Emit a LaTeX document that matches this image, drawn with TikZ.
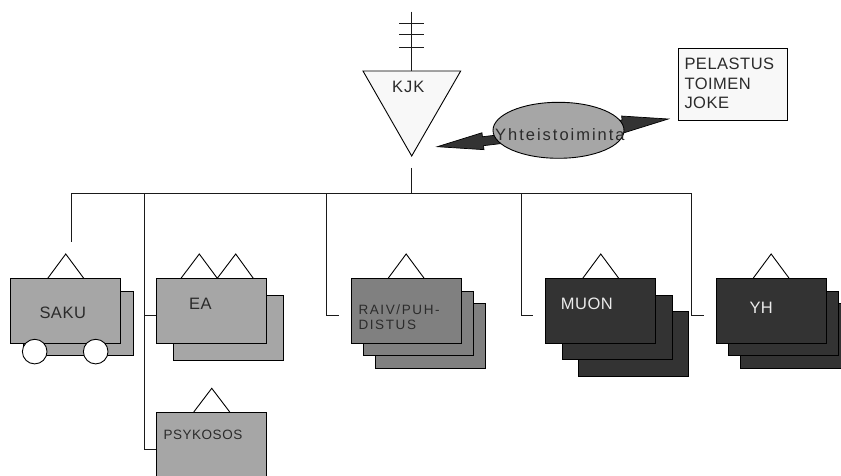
\documentclass[tikz,border=0pt]{standalone}
\usepackage{fontspec}
\setmainfont{Liberation Sans}
\usetikzlibrary{calc,shapes.geometric}

\definecolor{paper}{HTML}{F8F8F8}
\definecolor{midgray}{HTML}{A6A6A6}
\definecolor{slategray}{HTML}{808080}
\definecolor{charcoal}{HTML}{333333}
\definecolor{ink}{HTML}{2B2B2B}
\definecolor{linegray}{HTML}{1A1A1A}

\begin{document}
\begin{tikzpicture}[x=1pt,y=-1pt,
  wire/.style={draw=linegray, line width=1pt},
  unitbox/.style={draw=black, line width=0.9pt, rectangle, inner sep=0pt,
    minimum width=110pt, minimum height=64.7pt, anchor=north west},
  hanger/.style={draw=black, line width=0.9pt},
  lbl/.style={inner sep=0pt, anchor=base west, text=ink,
    font=\fontsize{16.5}{19.5}\selectfont\addfontfeature{LetterSpace=3}},
  smalllbl/.style={lbl, font=\fontsize{13.5}{15}\selectfont\addfontfeature{LetterSpace=12}},
  whitelbl/.style={lbl, text=white!92!black},
  wheel/.style={draw=black, line width=0.9pt, fill=white, circle, minimum size=24.6pt, inner sep=0pt}
]
\useasboundingbox (0,0) rectangle (841,476);

% ---------- command post: antenna and triangle ----------
\coordinate (anttop) at (411.7,11.7);
\coordinate (kjktop) at (411.7,71);
\coordinate (kjkl) at (363,71);
\coordinate (kjkr) at (460.7,71);
\coordinate (kjkb) at (411.7,156);
\draw[wire] (anttop) -- (kjktop);
\foreach \yy in {23.3,35,47.3}
  \draw[wire] (399.3,\yy) -- (424,\yy);
\filldraw[fill=paper, draw=black, line width=0.9pt] (kjkl) -- (kjkr) -- (kjkb) -- cycle;
\node[lbl, font=\fontsize{16.5}{19.5}\selectfont\addfontfeature{LetterSpace=6}] (kjk) at (392,92.7) {KJK};

% ---------- cooperation: double arrow under the ellipse ----------
\coordinate (ltip) at (437.3,146.7);
\coordinate (rtip) at (668.3,119);
\coordinate (lneck) at ($(ltip)!46pt!(rtip)$);
\coordinate (rneck) at ($(rtip)!46pt!(ltip)$);
\filldraw[fill=charcoal, draw=black, line width=0.7pt] (ltip)
  -- ($(lneck)!8.5pt!90:(rtip)$) -- ($(lneck)!4.5pt!90:(rtip)$)
  -- ($(rneck)!4.5pt!-90:(ltip)$) -- ($(rneck)!8.5pt!-90:(ltip)$)
  -- (rtip)
  -- ($(rneck)!8.5pt!90:(ltip)$) -- ($(rneck)!4.5pt!90:(ltip)$)
  -- ($(lneck)!4.5pt!-90:(rtip)$) -- ($(lneck)!8.5pt!-90:(rtip)$) -- cycle;
\node[ellipse, draw=black, line width=0.9pt, fill=midgray, minimum width=131pt,
  minimum height=56pt, inner sep=0pt] (coop) at (558.5,130.3) {};
\node[lbl, font=\fontsize{16.5}{19.5}\selectfont\addfontfeature{LetterSpace=12}] (cooptext) at (495,140.7) {Yhteistoiminta};

% ---------- rescue service box ----------
\node[draw=black, line width=0.9pt, fill=paper, rectangle, inner sep=0pt,
  minimum width=108.7pt, minimum height=71.7pt, anchor=north west] (pelastus) at (678,48.3) {};
\node[lbl] (pel1) at (684.3,70) {PELASTUS};
\node[lbl] (pel2) at (684.3,89.3) {TOIMEN};
\node[lbl] (pel3) at (684.3,109) {JOKE};

% ---------- distribution lines ----------
\coordinate (stemtop) at (411.7,168);
\coordinate (stembot) at (411.7,193.3);
\coordinate (busw) at (71,193.3);
\coordinate (buse) at (691.7,193.3);
\coordinate (sakuend) at (71,241.7);
\coordinate (eabus) at (144.3,193.3);
\coordinate (raivbus) at (326.7,193.3);
\coordinate (muonbus) at (521.7,193.3);
\coordinate (eaend) at (156.7,315);
\coordinate (psyend) at (156.7,449);
\coordinate (raivend) at (339,315);
\coordinate (muonend) at (533.3,315);
\coordinate (yhend) at (704,315);
\draw[wire] (stemtop) -- (stembot);
\draw[wire] (sakuend) -- (busw) -- (buse);
\draw[wire] (eabus) |- (psyend);
\draw[wire] (eabus |- eaend) -- (eaend);
\draw[wire] (raivbus) |- (raivend);
\draw[wire] (muonbus) |- (muonend);
\draw[wire] (buse) |- (yhend);

% ---------- SAKU ----------
\node[unitbox, fill=midgray] (saku2) at (22.6,290.7) {};
\node[unitbox, fill=midgray] (saku) at (10.3,278.3) {};
\draw[hanger] ($(saku.north)+(-18,0)$) -- ($(saku.north)+(0,-24.3)$) -- ($(saku.north)+(18,0)$);
\node[wheel] (wheell) at (34.7,351.6) {};
\node[wheel] (wheelr) at (95.7,351.6) {};
\node[lbl] (sakutext) at (39.3,318.3) {SAKU};

% ---------- EA ----------
\node[unitbox, fill=midgray] (ea2) at (172.7,295) {};
\node[unitbox, fill=midgray] (ea) at (156.3,278.3) {};
\draw[hanger] (181,278.3) -- (199.3,254) -- (217.3,278.3) -- (235.7,254) -- (253.3,278.3);
\node[lbl] (eatext) at (189,309.3) {EA};

% ---------- PSYKOSOS ----------
\node[unitbox, fill=midgray] (psy) at (156.3,412) {};
\draw[hanger] ($(psy.north)+(-18,0)$) -- ($(psy.north)+(0,-23.7)$) -- ($(psy.north)+(18,0)$);
\node[smalllbl, font=\fontsize{13.5}{15}\selectfont\addfontfeature{LetterSpace=4}] (psytext) at (163.3,439) {PSYKOSOS};

% ---------- RAIV/PUHDISTUS ----------
\node[unitbox, fill=slategray] (raiv3) at (375,302.9) {};
\node[unitbox, fill=slategray] (raiv2) at (362.8,290.6) {};
\node[unitbox, fill=slategray] (raiv) at (350.7,278.3) {};
\draw[hanger] ($(raiv.north)+(-18,0)$) -- ($(raiv.north)+(0,-24.3)$) -- ($(raiv.north)+(18,0)$);
\node[smalllbl] (raivt1) at (358.3,314) {RAIV/PUH-};
\node[smalllbl] (raivt2) at (358.3,329) {DISTUS};

% ---------- MUON ----------
\node[unitbox, fill=charcoal] (muon3) at (578,311) {};
\node[unitbox, fill=charcoal] (muon2) at (561.7,294.7) {};
\node[unitbox, fill=charcoal] (muon) at (545.3,278.3) {};
\draw[hanger] ($(muon.north)+(-18,0)$) -- ($(muon.north)+(0,-24.3)$) -- ($(muon.north)+(18,0)$);
\node[whitelbl] (muontext) at (560.7,309.3) {MUON};

% ---------- YH ----------
\node[unitbox, fill=charcoal] (yh3) at (740,302.9) {};
\node[unitbox, fill=charcoal] (yh2) at (727.8,290.6) {};
\node[unitbox, fill=charcoal] (yh) at (715.7,278.3) {};
\draw[hanger] ($(yh.north)+(-18,0)$) -- ($(yh.north)+(0,-24.3)$) -- ($(yh.north)+(18,0)$);
\node[whitelbl] (yhtext) at (749.3,313.3) {YH};
\end{tikzpicture}
\end{document}
